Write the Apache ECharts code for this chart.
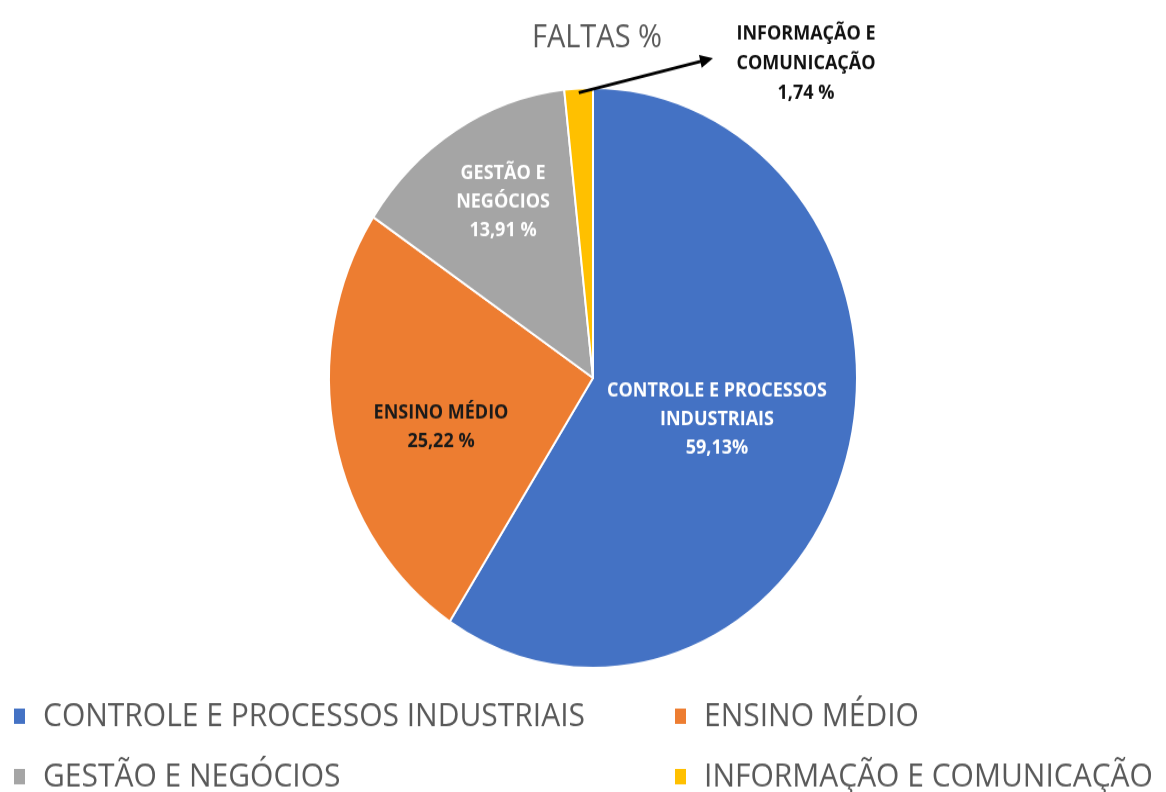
<!DOCTYPE html>
<html>
<head>
<meta charset="utf-8">
<title>FALTAS %</title>
<script src="https://cdn.jsdelivr.net/npm/echarts@6/dist/echarts.min.js"></script>
<style>
  html, body { margin: 0; padding: 0; background: #ffffff; overflow: hidden; }
  #wrap { width: 1166px; height: 792px; overflow: hidden; }
  /* the chart is drawn at a flatter height and stretched vertically */
  #chart { width: 1166px; height: 721px; transform: scaleY(1.0985); transform-origin: 0 0; }
</style>
</head>
<body>
<div id="wrap"><div id="chart"></div></div>
<script>
// ---- data ----
const categories = [
  'CONTROLE E PROCESSOS INDUSTRIAIS',
  'ENSINO MÉDIO',
  'GESTÃO E NEGÓCIOS',
  'INFORMAÇÃO E COMUNICAÇÃO'
];
const values = [59.13, 25.22, 13.91, 1.74];
const labelTexts = [
  'CONTROLE E PROCESSOS\nINDUSTRIAIS\n59,13%',
  'ENSINO MÉDIO\n25,22 %',
  'GESTÃO E\nNEGÓCIOS\n13,91 %',
  'INFORMAÇÃO E\nCOMUNICAÇÃO\n1,74 %'
];
const colors = ['#4472C4', '#ED7D31', '#A5A5A5', '#FFC000'];
const labelColors = ['#ffffff', '#1a1a1a', '#ffffff', '#111111'];
const titleText = 'FALTAS %';

// ---- layout ----
const FONT = "'Open Sans', 'Noto Sans', sans-serif";
const CENTER = [593, 344];
const RADIUS = 264;
// label anchor points (chart pixels, before the vertical stretch)
const LABEL_POS = [[717, 382], [441, 389], [503, 184], [806, 58]];
const ARROW_END = [713, 53];
// legend: two columns, two rows
const LEGEND_COLS = [12, 673];
const LEGEND_ROWS = [652, 707];
const LEGEND_LINE = 32;

const chart = echarts.init(document.getElementById('chart'), null, { renderer: 'canvas' });

const pieData = categories.map((name, i) => ({
  name: name,
  value: values[i],
  itemStyle: { color: colors[i] },
  label: {
    formatter: labelTexts[i],
    color: labelColors[i],
    fontSize: 18,
    lineHeight: i === 3 ? 27 : 26
  }
}));

// arrow from inside the small slice out to its label
const total = values.reduce((a, b) => a + b, 0);
const before = values.slice(0, 3).reduce((a, b) => a + b, 0);
const midAngle = (before + values[3] / 2) / total * 2 * Math.PI; // clockwise from 12 o'clock
const start = [
  CENTER[0] + 0.985 * RADIUS * Math.sin(midAngle),
  CENTER[1] - 0.985 * RADIUS * Math.cos(midAngle)
];
const ang = Math.atan2(ARROW_END[1] - start[1], ARROW_END[0] - start[0]);
const headLen = 13, headW = 6;
const lineEnd = [ARROW_END[0] - headLen * 0.8 * Math.cos(ang), ARROW_END[1] - headLen * 0.8 * Math.sin(ang)];
const baseX = ARROW_END[0] - headLen * Math.cos(ang), baseY = ARROW_END[1] - headLen * Math.sin(ang);
const head = [
  [ARROW_END[0], ARROW_END[1]],
  [baseX + headW * Math.sin(ang), baseY - headW * Math.cos(ang)],
  [baseX - headW * Math.sin(ang), baseY + headW * Math.cos(ang)]
];

// one legend block per category, laid out row by row in two columns
const legends = categories.map((name, i) => ({
  data: [name],
  orient: 'horizontal',
  left: LEGEND_COLS[i % 2],
  top: LEGEND_ROWS[Math.floor(i / 2)] - LEGEND_LINE / 2,
  padding: 0,
  itemWidth: 13,
  itemHeight: 16,
  icon: 'rect',
  selectedMode: false,
  textStyle: {
    fontFamily: FONT, fontSize: 30, color: '#595959',
    lineHeight: LEGEND_LINE, padding: [0, 0, 0, 12]
  }
}));

chart.setOption({
  backgroundColor: '#ffffff',
  animation: false,
  title: {
    text: titleText,
    left: 592,
    top: 15,
    textAlign: 'center',
    textStyle: { fontFamily: FONT, fontSize: 29, fontWeight: 'normal', color: '#595959' }
  },
  legend: legends,
  series: [{
    type: 'pie',
    center: CENTER,
    radius: RADIUS,
    startAngle: 90,
    clockwise: true,
    avoidLabelOverlap: false,
    itemStyle: { borderColor: '#ffffff', borderWidth: 2 },
    label: {
      show: true,
      position: 'inside',
      fontFamily: FONT,
      fontWeight: 'bold',
      align: 'center',
      verticalAlign: 'middle'
    },
    labelLine: { show: false },
    labelLayout: function (p) {
      const pos = LABEL_POS[p.dataIndex];
      return { x: pos[0], y: pos[1], align: 'center', verticalAlign: 'middle' };
    },
    emphasis: { disabled: true },
    data: pieData
  }],
  graphic: [
    {
      type: 'line',
      z: 100,
      shape: { x1: start[0], y1: start[1], x2: lineEnd[0], y2: lineEnd[1] },
      style: { stroke: '#000000', lineWidth: 3 }
    },
    {
      type: 'polygon',
      z: 100,
      shape: { points: head },
      style: { fill: '#000000' }
    }
  ]
});
</script>
</body>
</html>
